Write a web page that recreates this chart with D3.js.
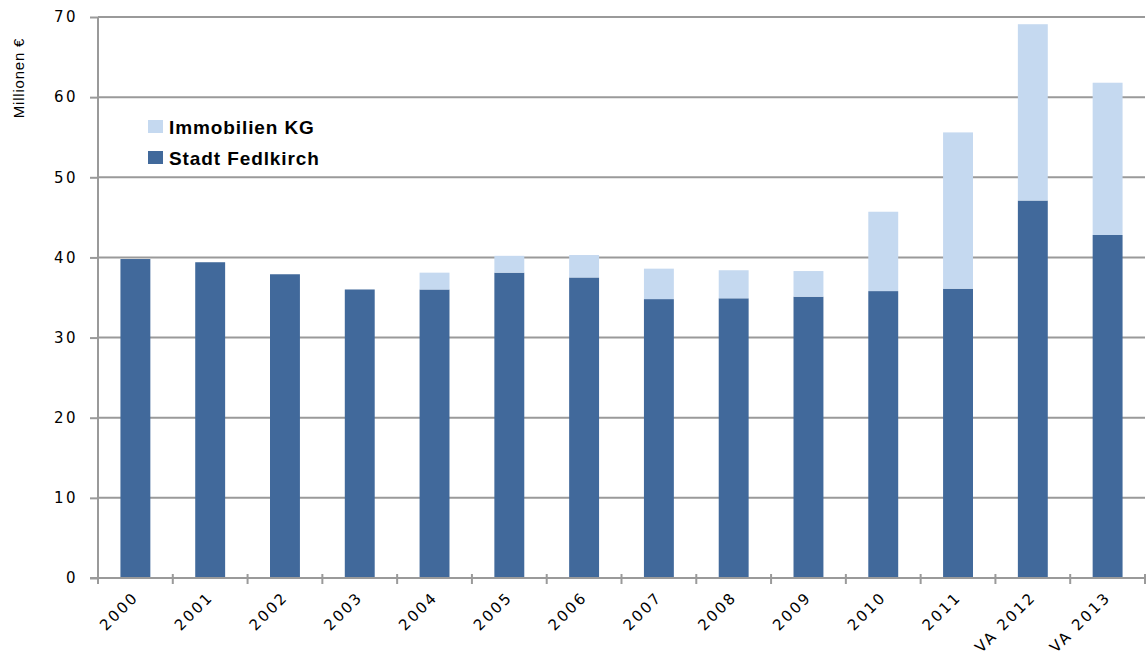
<!DOCTYPE html>
<html>
<head>
<meta charset="utf-8">
<script src="https://cdn.jsdelivr.net/npm/d3@7"></script>
<style>
  body { margin: 0; background: #fff; }
  svg { display: block; }
</style>
</head>
<body>
<svg id="chart" width="1146" height="657"></svg>
<script>
// data
const years = ["2000", "2001", "2002", "2003", "2004", "2005", "2006", "2007", "2008", "2009", "2010", "2011", "VA 2012", "VA 2013"];
const stadt = [39.8, 39.4, 37.9, 36.0, 36.0, 38.1, 37.5, 34.8, 34.9, 35.1, 35.8, 36.1, 47.1, 42.8];
const immo  = [0, 0, 0, 0, 2.1, 2.1, 2.8, 3.8, 3.5, 3.2, 9.9, 19.5, 22.0, 19.0];
const yTicks = [0, 10, 20, 30, 40, 50, 60, 70];
const seriesNames = ["Immobilien KG", "Stadt Fedlkirch"];

const colDark = "#41699b", colLight = "#c5d9f0", gridCol = "#9a9a9a";

const svg = d3.select("#chart");
const m = { left: 98, right: 1145, top: 17, bottom: 578 };

const x = d3.scaleBand().domain(years).range([m.left, m.right]).paddingInner(0.6).paddingOuter(0.3);
const y = d3.scaleLinear().domain([0, 70]).range([m.bottom, m.top]);

// gridlines
svg.append("g").selectAll("line").data(yTicks.slice(1)).join("line")
    .attr("x1", m.left).attr("x2", m.right)
    .attr("y1", d => y(d)).attr("y2", d => y(d))
    .attr("stroke", gridCol).attr("stroke-width", 2);

// stacked bars
const rows = years.map((yr, i) => ({ year: yr, stadt: stadt[i], immo: immo[i] }));
const stack = d3.stack().keys(["stadt", "immo"])(rows);
const colors = { stadt: colDark, immo: colLight };

svg.append("g").selectAll("g").data(stack).join("g")
    .attr("fill", d => colors[d.key])
    .selectAll("rect").data(d => d).join("rect")
    .attr("x", d => x(d.data.year))
    .attr("width", x.bandwidth())
    .attr("y", d => y(d[1]))
    .attr("height", d => y(d[0]) - y(d[1]));

// y axis
const yAxis = svg.append("g").attr("transform", `translate(${m.left},0)`)
    .call(d3.axisLeft(y).tickValues(yTicks).tickSize(8).tickPadding(12));
yAxis.select(".domain").attr("stroke", gridCol).attr("stroke-width", 2).attr("d", `M0,${m.top}V${m.bottom}`);
yAxis.selectAll(".tick line").attr("stroke", gridCol).attr("stroke-width", 2);
yAxis.selectAll("text").attr("font-family", "DejaVu Sans, Verdana, sans-serif")
    .attr("font-size", 15).attr("fill", "#000").attr("letter-spacing", 2.5);

// x axis
const xTickPos = years.map((d, i) => m.left + i * (m.right - m.left) / years.length).concat([m.right]);
const xg = svg.append("g");
xg.append("line").attr("x1", m.left - 8).attr("x2", m.right)
    .attr("y1", m.bottom).attr("y2", m.bottom)
    .attr("stroke", gridCol).attr("stroke-width", 2);
xg.selectAll("line.tk").data(xTickPos).join("line").attr("class", "tk")
    .attr("x1", d => d).attr("x2", d => d)
    .attr("y1", m.bottom - 4).attr("y2", m.bottom + 6)
    .attr("stroke", gridCol).attr("stroke-width", 2);
xg.selectAll("text").data(years).join("text")
    .attr("transform", d => `translate(${x(d) + x.bandwidth() / 2 + 4},${m.bottom + 20}) rotate(-45)`)
    .attr("text-anchor", "end")
    .attr("font-family", "DejaVu Sans, Verdana, sans-serif")
    .attr("font-size", 15).attr("letter-spacing", 2.3)
    .text(d => d);

// y title
svg.append("text")
    .attr("transform", "translate(24,78) rotate(-90)")
    .attr("text-anchor", "middle")
    .attr("font-family", "Liberation Sans, Arial, sans-serif")
    .attr("font-size", 15).attr("letter-spacing", 0.8)
    .text("Millionen €");

// legend
const legend = svg.append("g").attr("transform", "translate(148,120)");
const legColors = [colLight, colDark];
seriesNames.forEach((name, i) => {
  const g = legend.append("g").attr("transform", `translate(0,${i * 31})`);
  g.append("rect").attr("width", 15).attr("height", 13).attr("fill", legColors[i]);
  g.append("text").attr("x", 21).attr("y", 13.5)
    .attr("font-family", "Liberation Sans, Arial, sans-serif")
    .attr("font-weight", "bold").attr("font-size", 19).attr("letter-spacing", 0.9)
    .text(name);
});
</script>
</body>
</html>
